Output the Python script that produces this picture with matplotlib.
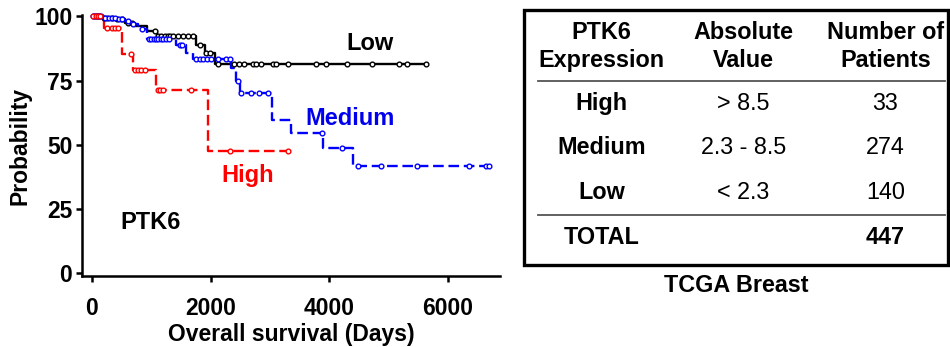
import numpy as np
import matplotlib
matplotlib.use("Agg")
import matplotlib.pyplot as plt
import matplotlib.patches as mpatches

plt.rcParams['font.family'] = ['Liberation Sans', 'DejaVu Sans']

# Kaplan-Meier step data (days, survival %)
low_time = [0, 150, 350, 550, 720, 920, 1090, 1760, 1900, 2070, 5650]
low_surv = [100, 99.5, 99, 97.5, 96.2, 94.3, 92.3, 89, 85.8, 81.6, 81.6]
low_cens = [30, 80, 120, 200, 260, 330, 420, 500, 600, 680, 1059, 1115, 1171, 1227,
            1283, 1311, 1367, 1451, 1535, 1619, 1703, 1815, 1928, 1983, 2123, 2403,
            2487, 2571, 2711, 2767, 2851, 3047, 3104, 3299, 3775, 3943, 4308, 4729,
            5176, 5316, 5626]

med_time = [0, 200, 400, 550, 640, 775, 920, 1420, 1590, 1700, 2350, 2430, 2490,
            3030, 3360, 3890, 4400, 6740]
med_surv = [100, 99.5, 99, 98, 96.9, 95, 91, 89, 85.8, 83.5, 80, 74.7, 70.3,
            59.8, 54.6, 48.7, 41.8, 41.8]
med_cens = [20, 50, 90, 120, 160, 220, 280, 330, 380, 450, 500, 600, 700, 850, 960,
            1000, 1040, 1080, 1120, 1160, 1200, 1250, 1300, 1480, 1520, 1760, 1820,
            1880, 1940, 2000, 2120, 2263, 2320, 2460, 2516, 2684, 2824, 2963, 3887,
            4224, 4493, 4870, 5485, 6365, 6644, 6689]

high_time = [0, 210, 500, 695, 1087, 1955, 3300]
high_surv = [100, 95.6, 85.2, 79, 71.5, 47.8, 47.8]
high_cens = [20, 60, 100, 140, 247, 331, 387, 443, 666, 723, 778, 835, 890,
             1115, 1143, 1198, 1675, 2320, 3300]

# table content
tbl_header = [["PTK6", "Expression"], ["Absolute", "Value"], ["Number of", "Patients"]]
tbl_groups = ["High", "Medium", "Low"]
tbl_values = ["> 8.5", "2.3 - 8.5", "< 2.3"]
tbl_counts = ["33", "274", "140"]
tbl_total = "447"

fig = plt.figure(figsize=(9.5, 3.47), dpi=100)
ax = fig.add_axes([82 / 950, 1 - 276 / 347, (500 - 82) / 950, (276 - 15) / 347])


def km(t, s, cens, color, ls):
    ax.step(t, s, where='post', color=color, lw=1.7, linestyle=ls, clip_on=False, zorder=3)
    idx = np.searchsorted(t, cens, side='right') - 1
    cy = np.asarray(s)[idx]
    ax.plot(cens, cy, linestyle='none', marker='o', ms=3.4, mfc='white',
            mec=color, mew=1.0, clip_on=False, zorder=4)


km(low_time, low_surv, low_cens, 'black', '-')
km(med_time, med_surv, med_cens, '#0000ff', (0, (4.5, 2)))
km(high_time, high_surv, high_cens, '#ff0000', (0, (4.5, 2)))

ax.set_xlim(-168, 6880)
ax.set_ylim(-1, 100.5)
ax.set_xticks([0, 2000, 4000, 6000])
ax.set_yticks([0, 25, 50, 75, 100])
for s in ['top', 'right']:
    ax.spines[s].set_visible(False)
for s in ['left', 'bottom']:
    ax.spines[s].set_linewidth(1.8)
ax.tick_params(axis='x', length=4, width=1.8, pad=11, labelsize=16.5)
ax.tick_params(axis='y', length=4, width=1.8, pad=3, labelsize=16.5)
for lab in ax.get_xticklabels() + ax.get_yticklabels():
    lab.set_fontweight('bold')
ax.set_ylabel("Probability", fontsize=16.5, fontweight='bold', labelpad=2)
ax.set_xlabel("Overall survival (Days)", fontsize=16.5, fontweight='bold', labelpad=2.5)

ax.text(4690, 89.5, "Low", fontsize=17, fontweight='bold', color='black', ha='center', va='center')
ax.text(4353, 60.4, "Medium", fontsize=17, fontweight='bold', color='#0000ee', ha='center', va='center')
ax.text(2618, 38.2, "High", fontsize=17, fontweight='bold', color='#ff0000', ha='center', va='center')
ax.text(983, 19.9, "PTK6", fontsize=17, fontweight='bold', color='black', ha='center', va='center')

# table drawn in pixel coordinates
tx = fig.add_axes([0, 0, 1, 1], zorder=-1)
tx.set_xlim(0, 950)
tx.set_ylim(347, 0)
tx.axis('off')
tx.add_patch(mpatches.Rectangle((524, 10), 424, 255, fill=False, lw=2.4, edgecolor='black'))
tx.plot([538, 945], [80.7, 80.7], color='#555555', lw=1.3)
tx.plot([538, 945], [215, 215], color='#555555', lw=1.3)

col_x = [601.7, 743.3, 885.5]
fs = 16.8
for cx, (l1, l2) in zip(col_x, tbl_header):
    tx.text(cx, 32.3, l1, fontsize=fs, fontweight='bold', ha='center', va='center')
    tx.text(cx, 60, l2, fontsize=fs, fontweight='bold', ha='center', va='center')
row_y = [103.3, 147.7, 192.7]
for ry, g, v, n in zip(row_y, tbl_groups, tbl_values, tbl_counts):
    tx.text(col_x[0], ry, g, fontsize=fs, fontweight='bold', ha='center', va='center')
    tx.text(col_x[1], ry, v, fontsize=fs, ha='center', va='center')
    tx.text(col_x[2], ry, n, fontsize=fs, ha='center', va='center')
tx.text(col_x[0], 237.3, "TOTAL", fontsize=fs, fontweight='bold', ha='center', va='center')
tx.text(col_x[2], 237.3, tbl_total, fontsize=fs, fontweight='bold', ha='center', va='center')
tx.text(736.7, 285, "TCGA Breast", fontsize=fs, fontweight='bold', ha='center', va='center')

fig.savefig("out.png", dpi=100)
